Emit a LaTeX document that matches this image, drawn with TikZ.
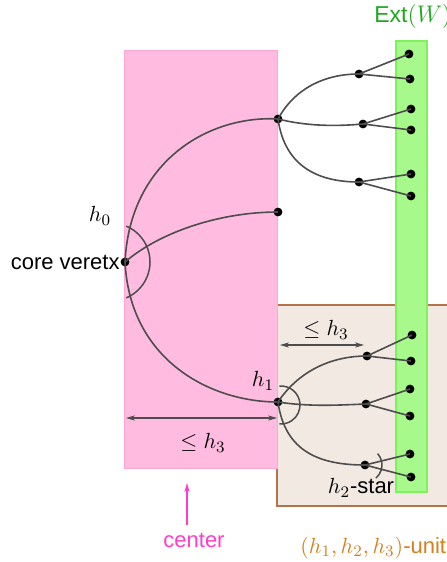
\documentclass[tikz,border=0pt]{standalone}
\usepackage{fontspec}
\setmainfont{Liberation Sans}
\usetikzlibrary{arrows.meta}
\definecolor{pinkfill}{HTML}{FFBCE0}
\definecolor{pinkline}{HTML}{FFA6D5}
\definecolor{greenfill}{HTML}{A8F98C}
\definecolor{greenline}{HTML}{7DF25C}
\definecolor{brownfill}{HTML}{F3E9E3}
\definecolor{brownline}{HTML}{B5734A}
\definecolor{edgegray}{HTML}{4D4D4D}
\definecolor{extgreen}{HTML}{1EA81E}
\definecolor{centermag}{HTML}{FF3DC8}
\definecolor{unitorange}{HTML}{D5801E}
\begin{document}
\begin{tikzpicture}[x=0.5pt,y=-0.5pt,
  dot/.style={circle,fill=black,inner sep=0pt,minimum size=4.4pt},
  edge/.style={draw=edgegray,line width=0.8pt},
  anglemark/.style={draw=edgegray,line width=0.75pt},
  dimarrow/.style={draw=edgegray,line width=0.6pt,{Stealth[length=4.5pt,width=2.6pt]}-{Stealth[length=4.5pt,width=2.6pt]}},
  lbl/.style={font=\fontsize{11}{13}\selectfont,inner sep=0pt}
]
\useasboundingbox (0,0) rectangle (446,562);
% regions
\fill[brownfill,draw=brownline,line width=0.7pt] (277,305) rectangle (470,506);
\fill[pinkfill,draw=pinkline,line width=0.5pt] (124,50) rectangle (277,468);
\fill[greenfill,draw=greenline,line width=0.7pt] (396,41) rectangle (427,492);

% nodes
\node[dot] (core) at (125,262) {};
\node[dot] (a) at (278,119) {};
\node[dot] (b) at (278,212) {};
\node[dot] (c) at (278,402) {};
\node[dot] (ha) at (359,74) {};
\node[dot] (hb) at (363,124) {};
\node[dot] (hc) at (359,182) {};
\node[dot] (la1) at (409,54) {};
\node[dot] (la2) at (410,79) {};
\node[dot] (lb1) at (411,109) {};
\node[dot] (lb2) at (411,130) {};
\node[dot] (lc1) at (411,174) {};
\node[dot] (lc2) at (411,196) {};
\node[dot] (ga) at (367,356) {};
\node[dot] (gb) at (366,404) {};
\node[dot] (gc) at (365,465) {};
\node[dot] (ma1) at (412,335) {};
\node[dot] (ma2) at (411,361) {};
\node[dot] (mb1) at (410,389) {};
\node[dot] (mb2) at (410,416) {};
\node[dot] (mc1) at (410,454) {};
\node[dot] (mc2) at (411,477) {};

% curves from core
\draw[edge] (core.center) .. controls (130,160) and (210,115) .. (a.center);
\draw[edge] (core.center) .. controls (160,232) and (220,212) .. (b.center);
\draw[edge] (core.center) .. controls (130,360) and (210,402) .. (c.center);
% curves from a
\draw[edge] (a.center) .. controls (295,88) and (325,74) .. (ha.center);
\draw[edge] (a.center) .. controls (310,127) and (340,126) .. (hb.center);
\draw[edge] (a.center) .. controls (285,168) and (320,182) .. (hc.center);
% curves from c
\draw[edge] (c.center) .. controls (298,372) and (330,356) .. (ga.center);
\draw[edge] (c.center) .. controls (310,407) and (340,405) .. (gb.center);
\draw[edge] (c.center) .. controls (285,452) and (320,465) .. (gc.center);
% star edges
\foreach \h/\l in {ha/la1,ha/la2,hb/lb1,hb/lb2,hc/lc1,hc/lc2,ga/ma1,ga/ma2,gb/mb1,gb/mb2,gc/mc1,gc/mc2}
  \draw[edge] (\h.center) -- (\l.center);

% angle marks
\coordinate (coreac) at (111,262);
\draw[anglemark] (coreac) ++(-67:39) arc[start angle=-67,end angle=67,radius=39];
\coordinate (cac) at (281,405);
\draw[anglemark] (cac) ++(-95:19) arc[start angle=-95,end angle=95,radius=19];
\draw[anglemark] (gc.center) ++(-42:17) arc[start angle=-42,end angle=50,radius=17];

% dimension arrows
\coordinate (d1l) at (126,418);
\coordinate (d1r) at (277,418);
\draw[dimarrow] (d1l) -- (d1r);
\coordinate (d2l) at (280,345);
\coordinate (d2r) at (364,345);
\draw[dimarrow] (d2l) -- (d2r);

% labels
\node[lbl,anchor=east] (coretxt) at (120,262) {core veretx};
\node[lbl] (h0) at (100,216) {$h_0$};
\node[lbl] (h1) at (263,381) {$h_1$};
\node[lbl] (h2) at (361,488) {$h_2$-star};
\node[lbl] (dim1) at (203,443) {$\le h_3$};
\node[lbl] (dim2) at (326,330) {$\le h_3$};
\node[lbl,anchor=west,text=extgreen,font=\fontsize{11.5}{13}\selectfont] (ext) at (374,16) {Ext$(W)$};
\node[lbl,text=centermag] (ctr) at (194,540) {center};
\coordinate (ctrtip) at (187,483);
\draw[centermag,line width=0.6pt,-{Stealth[length=4.5pt,width=2.6pt]}] (187,525) -- (ctrtip);
\node[lbl,anchor=west,text=unitorange] (unit) at (300,548) {$(h_1,h_2,h_3)$-unit};
\end{tikzpicture}
\end{document}
